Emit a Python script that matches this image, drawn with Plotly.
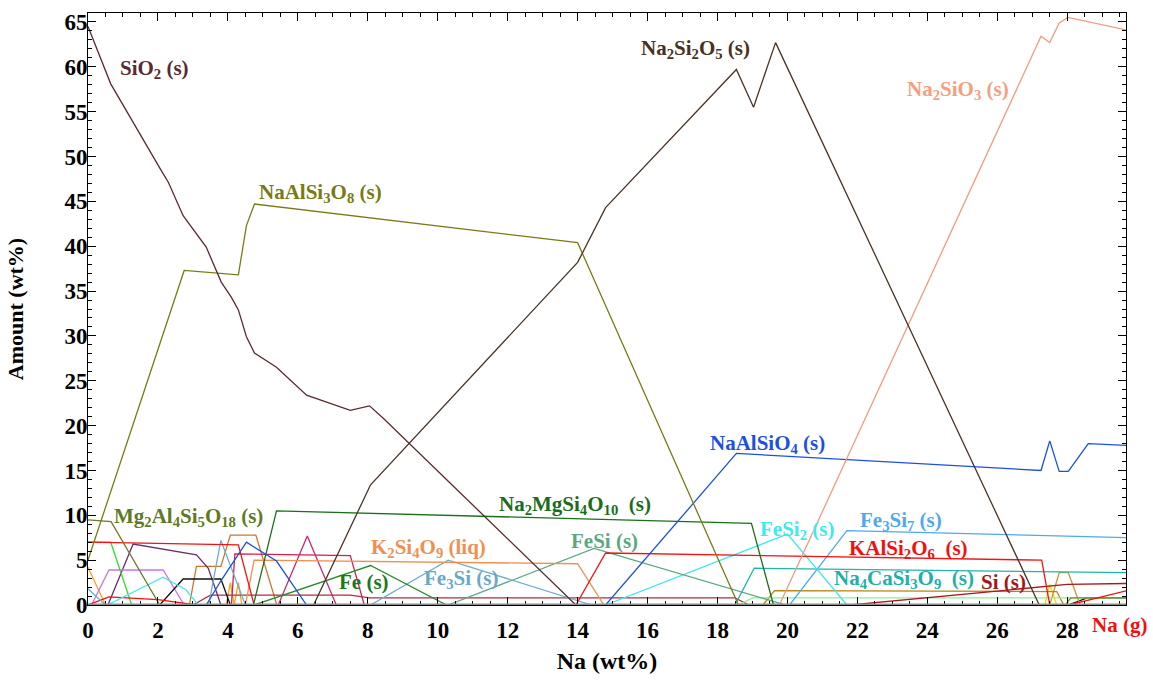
import plotly.graph_objects as go

# Equilibrium phase amounts (wt%) versus added Na (wt%)
X_END = 29.7

sio2_x = [0, 0.65, 2.1, 2.3, 2.72, 3.38, 3.81, 4.1, 4.3, 4.53, 4.76, 5.39, 6.25, 7.5, 8.05, 8.45, 13.95, X_END]
sio2_y = [64.5, 58.1, 48.4, 47.1, 43.4, 39.9, 36.0, 34.3, 32.9, 29.9, 28.1, 26.5, 23.4, 21.7, 22.2, 20.8, 0, 0]

na2si2o5_x = [0, 6.45, 8.08, 14.0, 14.8, 18.54, 19.03, 19.66, 27.2, X_END]
na2si2o5_y = [0, 0, 13.4, 38.2, 44.3, 59.7, 55.5, 62.7, 0, 0]

na2sio3_x = [0, 19.77, 27.25, 27.5, 27.77, 28.02, X_END]
na2sio3_y = [0, 0, 63.4, 62.7, 64.9, 65.5, 64.1]

naalsi3o8_x = [0, 2.75, 4.3, 4.53, 4.76, 14.0, 18.6, X_END]
naalsi3o8_y = [5.0, 37.3, 36.8, 42.3, 44.7, 40.4, 0, 0]

mg2al4si5o18_x = [0, 0.66, 2.05, X_END]
mg2al4si5o18_y = [9.5, 9.3, 0, 0]

na2mgsi4o10_x = [0, 4.73, 5.39, 18.97, 19.6, X_END]
na2mgsi4o10_y = [0, 0, 10.5, 9.1, 0, 0]

naalsio4_x = [0, 3.38, 3.8, 4.53, 5.39, 6.25, 14.8, 18.54, 27.25, 27.5, 27.77, 28.03, 28.6, X_END]
naalsio4_y = [0, 0, 2.7, 7.0, 4.9, 0, 0, 16.9, 15.0, 18.3, 14.9, 14.9, 18.0, 17.8]

kalsi2o6_x = [0, 4.3, 4.75, 13.95, 14.8, 27.27, 27.5, X_END]
kalsi2o6_y = [7.0, 6.7, 0, 0, 5.8, 5.0, 0, 0]

k2si4o9_x = [0, 4.5, 4.75, 14.0, 14.75, X_END]
k2si4o9_y = [0, 0, 5.0, 4.6, 0, 0]

fe_x = [0, 4.75, 8.08, 10.25, X_END]
fe_y = [0, 0, 4.4, 0, 0]

fe3si_x = [0, 0.5, 3.45, 3.8, 4.5, 8.08, 10.3, 14.4, X_END]
fe3si_y = [1.8, 0, 0, 7.2, 0, 0, 5.0, 0, 0]

fesi_x = [0, 10.3, 14.47, 19.95, X_END]
fesi_y = [0, 0, 6.3, 0, 0]

fesi2_x = [0, 0.55, 2.15, 2.8, 3.15, 14.8, 20.0, 21.7, X_END]
fesi2_y = [0, 0, 3.1, 1.7, 0, 0, 7.9, 0, 0]

fe3si7_x = [0, 20.06, 21.7, X_END]
fe3si7_y = [0, 0, 8.3, 7.5]

na4casi3o9_x = [0, 18.5, 19.05, X_END]
na4casi3o9_y = [0, 0, 4.1, 3.6]

si_x = [0, 21.8, 28.0, X_END]
si_y = [0, 0, 2.3, 2.4]

na_g_x = [0, 0.6, 2.0, 3.1, 28.05, X_END]
na_g_y = [0, 0.9, 0.6, 0, 0, 1.6]

# minor phases without labels
orange_x = [0, 0.5, 3.95, 4.07, 4.18, 4.3, 4.4, X_END]
orange_y = [4.2, 0, 0, 2.5, 0, 2.5, 0, 0]

peru_x = [0, 2.9, 3.1, 3.8, 4.07, 4.8, 5.4, X_END]
peru_y = [0, 0, 4.3, 4.3, 7.8, 7.8, 0, 0]

crimson_x = [0, 4.1, 4.2, 7.5, 7.9, X_END]
crimson_y = [0, 0, 5.7, 5.5, 0, 0]

rose_x = [0, 5.44, 6.27, 7.1, X_END]
rose_y = [0, 0, 7.7, 0, 0]

brick_x = [0, 3.0, 3.5, 7.5, 8.05, 18.5, 18.9, X_END]
brick_y = [0, 0, 1.1, 1.1, 0.8, 0.8, 0, 0]

purple_x = [0, 0.57, 1.29, 3.1, 3.44, 3.8, X_END]
purple_y = [0, 0, 6.8, 5.6, 4.1, 0, 0]

violet_x = [0, 0.1, 0.6, 2.15, 2.75, X_END]
violet_y = [0, 0, 3.9, 3.9, 0, 0]

lime_x = [0, 0.65, 1.25, X_END]
lime_y = [7.0, 7.0, 0, 0]

black_x = [0, 2.05, 2.72, 3.8, 4.07, 28.03, 28.57, X_END]
black_y = [0, 0, 2.9, 2.9, 0, 0, 0.8, 0.8]

gold_x = [0, 27.36, 27.5, 27.7, X_END]
gold_y = [0, 0, 2.3, 0, 0]

tan_x = [0, 27.5, 27.77, 28.03, 28.37, X_END]
tan_y = [0, 0, 3.6, 3.6, 0, 0]

goldenrod_x = [0, 19.3, 19.63, 27.7, 27.9, X_END]
goldenrod_y = [0, 0, 1.6, 1.5, 0, 0]

lightgreen_x = [0, 18.6, 19.0, X_END]
lightgreen_y = [0, 0, 0.8, 0.8]

olivegreen_x = [0, 27.95, 28.1, X_END]
olivegreen_y = [0, 0, 0.8, 0.8]

series = [
    (orange_x, orange_y, "#FFA020"),
    (peru_x, peru_y, "#C87832"),
    (crimson_x, crimson_y, "#D81E50"),
    (rose_x, rose_y, "#C8286E"),
    (brick_x, brick_y, "#A83240"),
    (purple_x, purple_y, "#6A2C70"),
    (violet_x, violet_y, "#D070F0"),
    (lime_x, lime_y, "#33DD33"),
    (black_x, black_y, "#111111"),
    (gold_x, gold_y, "#FFD700"),
    (tan_x, tan_y, "#C8963C"),
    (goldenrod_x, goldenrod_y, "#B8860B"),
    (lightgreen_x, lightgreen_y, "#90EE90"),
    (olivegreen_x, olivegreen_y, "#6B8E23"),
    (na_g_x, na_g_y, "#F01010"),
    (si_x, si_y, "#A81820"),
    (na4casi3o9_x, na4casi3o9_y, "#20B4AC"),
    (fe3si7_x, fe3si7_y, "#50A8F0"),
    (fesi2_x, fesi2_y, "#40E8F0"),
    (fesi_x, fesi_y, "#5AA882"),
    (fe3si_x, fe3si_y, "#6AAED0"),
    (fe_x, fe_y, "#2A8A2A"),
    (k2si4o9_x, k2si4o9_y, "#F09050"),
    (kalsi2o6_x, kalsi2o6_y, "#F01414"),
    (naalsio4_x, naalsio4_y, "#1E50E0"),
    (na2mgsi4o10_x, na2mgsi4o10_y, "#1A701A"),
    (mg2al4si5o18_x, mg2al4si5o18_y, "#6B7B2A"),
    (naalsi3o8_x, naalsi3o8_y, "#7A7A18"),
    (na2sio3_x, na2sio3_y, "#F49A80"),
    (na2si2o5_x, na2si2o5_y, "#4A3424"),
    (sio2_x, sio2_y, "#5A2A2E"),
]

fig = go.Figure()
for xs, ys, col in series:
    fig.add_trace(go.Scatter(x=xs, y=ys, mode="lines",
                             line=dict(color=col, width=1.3),
                             showlegend=False, hoverinfo="skip"))

# phase labels: (text, x, y, colour)
labels = [
    ("SiO<sub>2</sub> (s)", 1.89, 59.8, "#5A2A2E"),
    ("Na<sub>2</sub>Si<sub>2</sub>O<sub>5</sub> (s)", 17.36, 62.0, "#4A3020"),
    ("Na<sub>2</sub>SiO<sub>3</sub> (s)", 24.87, 57.4, "#F4A080"),
    ("NaAlSi<sub>3</sub>O<sub>8</sub> (s)", 6.65, 45.9, "#7A7A10"),
    ("Mg<sub>2</sub>Al<sub>4</sub>Si<sub>5</sub>O<sub>18</sub> (s)", 2.86, 9.8, "#5F7A1F"),
    ("Na<sub>2</sub>MgSi<sub>4</sub>O<sub>10</sub>\u00a0 (s)", 13.93, 11.1, "#1A6E1A"),
    ("NaAlSiO<sub>4</sub> (s)", 19.43, 17.9, "#1E50E0"),
    ("K<sub>2</sub>Si<sub>4</sub>O<sub>9</sub> (liq)", 9.74, 6.3, "#F09050"),
    ("FeSi (s)", 14.78, 7.1, "#5AA882"),
    ("FeSi<sub>2</sub> (s)", 20.26, 8.4, "#40E8F0"),
    ("Fe<sub>3</sub>Si<sub>7</sub> (s)", 23.24, 9.4, "#50A8F0"),
    ("KAlSi<sub>2</sub>O<sub>6</sub>\u00a0 (s)", 23.47, 6.2, "#F01010"),
    ("Na<sub>4</sub>CaSi<sub>3</sub>O<sub>9</sub>\u00a0 (s)", 23.32, 2.9, "#20B0A8"),
    ("Si (s)", 26.19, 2.55, "#A01818"),
    ("Fe (s)", 7.88, 2.55, "#1A7A1A"),
    ("Fe<sub>3</sub>Si (s)", 10.66, 2.9, "#6AA8C8"),
]
for text, lx, ly, col in labels:
    fig.add_annotation(x=lx, y=ly, text=text, showarrow=False,
                       font=dict(family="Liberation Serif", size=21, color=col, weight="bold"))

# gas-phase label sits under the axis, right end
fig.add_annotation(x=29.5, xref="x", y=-0.033, yref="paper", yanchor="middle",
                   text="Na (g)", showarrow=False,
                   font=dict(family="Liberation Serif", size=21, color="#F01010", weight="bold"))

# thick grey baseline
fig.add_shape(type="line", xref="paper", yref="y", x0=0, x1=1, y0=0, y1=0,
              line=dict(color="#8C8C8C", width=3), layer="above")

fig.update_xaxes(range=[0, 29.68], tickmode="linear", tick0=0, dtick=2,
                 ticks="inside", ticklen=8, tickwidth=1, tickcolor="black",
                 minor=dict(dtick=0.5, ticks="inside", ticklen=4, tickcolor="black"),
                 showline=True, linecolor="black", linewidth=1, mirror="allticks",
                 showgrid=False, zeroline=False, ticklabelstandoff=4,
                 tickfont=dict(family="Liberation Serif", size=23, color="black", weight="bold"),
                 title=dict(text="Na (wt%)", standoff=10,
                            font=dict(family="Liberation Serif", size=24, color="black", weight="bold")))
fig.update_yaxes(range=[0, 66], tickmode="linear", tick0=0, dtick=5,
                 ticks="inside", ticklen=8, tickwidth=1, tickcolor="black",
                 minor=dict(dtick=1, ticks="inside", ticklen=4, tickcolor="black"),
                 showline=True, linecolor="black", linewidth=1, mirror="allticks",
                 showgrid=False, zeroline=False, ticklabelstandoff=-5,
                 tickfont=dict(family="Liberation Serif", size=23, color="black", weight="bold"),
                 title=dict(text="Amount (wt%)", standoff=34,
                            font=dict(family="Liberation Serif", size=22, color="black", weight="bold")))

fig.update_layout(width=1153, height=682, margin=dict(l=88, r=27, t=10, b=77),
                  plot_bgcolor="white", paper_bgcolor="white")

fig.write_html("out.html")
